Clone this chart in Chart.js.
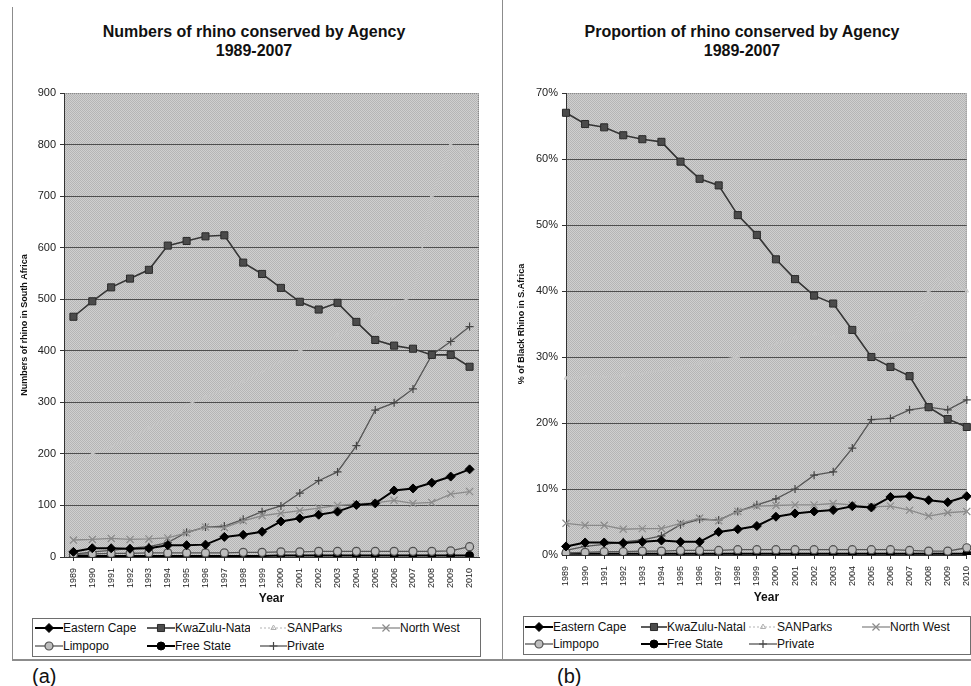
<!DOCTYPE html>
<html lang="en">
<head>
<meta charset="UTF-8">
<title>Rhino conserved by Agency 1989-2007</title>
<script src="https://cdn.jsdelivr.net/npm/chart.js@4/dist/chart.umd.min.js"></script>
<style>
    body {
        margin: 0;
        background: #fff;
        font-family: Arial, "Liberation Sans", sans-serif;
        overflow: hidden;
    }

    #page {
        position: relative;
        width: 971px;
        height: 686px;
    }

    .rule {
        position: absolute;
        background: #8c8c8c;
    }

    .title {
        position: absolute;
        top: 22px;
        text-align: center;
        font-weight: bold;
        font-size: 16px;
        line-height: 19px;
        color: #111;
    }

    .plot {
        position: absolute;
        top: 0;
    }

    .legend {
        position: absolute;
        border: 1px solid #6e6e6e;
        box-sizing: border-box;
    }

    .key {
        position: absolute;
        height: 14px;
    }

    .key canvas {
        position: absolute;
        left: 0;
        top: 0;
    }

    .key span {
        position: absolute;
        top: 0;
        white-space: nowrap;
        overflow: hidden;
        font-size: 12px;
        line-height: 14px;
        color: #111;
    }

    .tag {
        position: absolute;
        top: 665px;
        font-size: 20px;
        line-height: 22px;
        color: #111;
    }
</style>
</head>
<body>
<div id="page">
    <div class="rule" style="left:12px;top:7px;width:1px;height:653px"></div>
    <div class="rule" style="left:502px;top:0;width:1px;height:660px"></div>
    <div class="rule" style="left:12px;top:659px;width:959px;height:2px"></div>

    <div class="title" style="left:0;width:508px">Numbers of rhino conserved by Agency<br>1989-2007</div>
    <div class="title" style="left:513px;width:458px">Proportion of rhino conserved by Agency<br>1989-2007</div>

    <canvas id="countChart" class="plot" style="left:12px" width="478" height="612"></canvas>
    <canvas id="shareChart" class="plot" style="left:502px" width="471" height="612"></canvas>

    <div class="legend" id="countLegend" style="left:32px;top:618px;width:449px;height:39px"></div>
    <div class="legend" id="shareLegend" style="left:523px;top:616px;width:448px;height:39px"></div>

    <div class="tag" style="left:32px">(a)</div>
    <div class="tag" style="left:557px">(b)</div>
</div>

<script>
    // categories
    const years = ['1989', '1990', '1991', '1992', '1993', '1994', '1995', '1996', '1997', '1998', '1999',
        '2000', '2001', '2002', '2003', '2004', '2005', '2006', '2007', '2008', '2009', '2010'];
    const seriesNames = ['Eastern Cape', 'KwaZulu-Natal', 'SANParks', 'North West', 'Limpopo', 'Free State', 'Private'];

    // (a) numbers of rhino
    const countEasternCape = [10, 17, 17, 16, 17, 23, 23, 24, 39, 43, 49, 69, 75, 82, 88, 101, 104, 129, 133, 144, 156, 170];
    const countKwaZuluNatal = [466, 496, 523, 540, 557, 604, 613, 622, 624, 571, 549, 522, 495, 480, 493, 456, 421, 410, 404, 392, 392, 369];
    const countSANParks = [180, 200, 215, 230, 250, 270, 295, 310, 325, 340, 360, 380, 400, 415, 430, 450, 470, 490, 505, 700, 800, 770];
    const countNorthWest = [33, 34, 36, 34, 35, 37, 47, 58, 57, 70, 80, 85, 90, 95, 100, 103, 105, 110, 104, 106, 122, 127];
    const countLimpopo = [5, 6, 7, 7, 8, 8, 8, 8, 8, 9, 9, 10, 10, 11, 11, 11, 11, 11, 11, 11, 12, 20];
    const countFreeState = [2, 2, 2, 2, 2, 2, 2, 2, 2, 2, 2, 3, 3, 3, 3, 3, 3, 3, 3, 3, 3, 3];
    const countPrivate = [5, 10, 13, 17, 20, 28, 48, 58, 60, 73, 88, 99, 124, 148, 165, 216, 285, 299, 326, 392, 418, 447];

    // (b) % of black rhino in S.Africa
    const shareEasternCape = [1.3, 1.9, 1.9, 1.8, 2.0, 2.2, 2.0, 2.0, 3.5, 3.9, 4.4, 5.8, 6.3, 6.6, 6.8, 7.4, 7.2, 8.8, 8.9, 8.3, 8.0, 8.9];
    const shareKwaZuluNatal = [67.0, 65.3, 64.8, 63.6, 63.0, 62.6, 59.6, 57.0, 56.0, 51.5, 48.5, 44.8, 41.8, 39.3, 38.1, 34.1, 30.0, 28.5, 27.1, 22.4, 20.6, 19.4];
    const shareSANParks = [26.8, 27.0, 27.0, 27.2, 27.5, 28.0, 28.5, 29.0, 29.5, 30.0, 31.0, 32.0, 33.0, 33.5, 33.0, 33.5, 33.5, 34.0, 34.0, 40.0, 42.0, 40.0];
    const shareNorthWest = [4.8, 4.5, 4.5, 3.9, 4.0, 4.0, 4.8, 5.6, 5.2, 6.6, 7.4, 7.5, 7.6, 7.6, 7.8, 7.6, 7.3, 7.4, 6.8, 5.9, 6.4, 6.6];
    const shareLimpopo = [0.3, 0.4, 0.5, 0.5, 0.6, 0.6, 0.7, 0.7, 0.7, 0.8, 0.8, 0.8, 0.8, 0.8, 0.8, 0.8, 0.8, 0.8, 0.7, 0.6, 0.6, 1.1];
    const shareFreeState = [0.2, 0.2, 0.2, 0.2, 0.2, 0.2, 0.2, 0.2, 0.2, 0.2, 0.2, 0.2, 0.2, 0.2, 0.2, 0.2, 0.2, 0.2, 0.2, 0.2, 0.2, 0.2];
    const sharePrivate = [0.7, 1.3, 1.6, 2.0, 2.3, 2.9, 4.6, 5.4, 5.3, 6.6, 7.6, 8.5, 10.0, 12.1, 12.6, 16.2, 20.5, 20.7, 22.0, 22.4, 22.0, 23.5];

    // axis ranges (tick labels come from these)
    const countRange = [0, 900];
    const countStep = 100;
    const shareRange = [0, 70];
    const shareStep = 10;

    const fontFamily = 'Arial, "Liberation Sans", sans-serif';

    // look of each series (key* = how it shows in the legend, if different)
    const seriesStyle = {
        'Eastern Cape': { line: '#000', width: 2, point: 'rectRot', r: 4.5, fill: '#000', stroke: '#000', pw: 1 },
        'KwaZulu-Natal': { line: '#353535', width: 1.6, point: 'rect', r: 5, fill: '#4b4b4b', stroke: '#2a2a2a', pw: 1 },
        'SANParks': { line: '#c4c4c4', width: 1.4, point: 'triangle', r: 2, fill: 'rgba(0,0,0,0)', stroke: '#c6c6c6', pw: 1,
            keyLine: '#b4b4b4', keyDash: [2, 2], keyR: 3, keyStroke: '#b0b0b0', keyWidth: 1 },
        'North West': { line: '#8a8a8a', width: 1.3, point: 'crossRot', r: 5, fill: '#8a8a8a', stroke: '#8a8a8a', pw: 1.2 },
        'Limpopo': { line: '#555', width: 1.3, point: 'circle', r: 4, fill: '#bdbdbd', stroke: '#505050', pw: 1.2 },
        'Free State': { line: '#000', width: 2, point: 'circle', r: 4, fill: '#000', stroke: '#000', pw: 1 },
        'Private': { line: '#555', width: 1.3, point: 'cross', r: 4, fill: '#555', stroke: '#444', pw: 1.2 }
    };

    // dotted grey fill of the plot area
    const dots = document.createElement('canvas');
    dots.width = 2;
    dots.height = 2;
    const dctx = dots.getContext('2d');
    dctx.fillStyle = '#cfcfcf';
    dctx.fillRect(0, 0, 2, 2);
    dctx.fillStyle = '#b5b5b5';
    dctx.fillRect(0, 0, 1, 1);
    dctx.fillRect(1, 1, 1, 1);

    const plotBg = {
        id: 'plotBg',
        beforeDraw(chart) {
            const { ctx, chartArea: a } = chart;
            ctx.save();
            ctx.fillStyle = ctx.createPattern(dots, 'repeat');
            ctx.fillRect(a.left, a.top, a.width, a.height);
            ctx.strokeStyle = '#8a8a8a';
            ctx.lineWidth = 1;
            ctx.setLineDash([1, 1]);
            ctx.beginPath();
            ctx.moveTo(a.left, a.top + 0.5);
            ctx.lineTo(a.right - 0.5, a.top + 0.5);
            ctx.lineTo(a.right - 0.5, a.bottom);
            ctx.stroke();
            ctx.restore();
        }
    };

    function buildChart(id, values, o) {
        const datasets = seriesNames.map((name, i) => {
            const st = seriesStyle[name];
            return {
                label: name,
                data: values[i],
                borderColor: st.line,
                borderWidth: st.width,
                borderDash: st.dash || [],
                pointStyle: st.point,
                pointRadius: st.r,
                pointBackgroundColor: st.fill,
                pointBorderColor: st.stroke,
                pointBorderWidth: st.pw,
                tension: 0,
                fill: false
            };
        });

        return new Chart(document.getElementById(id), {
            type: 'line',
            data: { labels: years, datasets: datasets },
            options: {
                responsive: false,
                animation: false,
                layout: { padding: o.padding },
                plugins: {
                    legend: { display: false },
                    tooltip: { enabled: false },
                    title: { display: false }
                },
                scales: {
                    x: {
                        offset: o.offset,
                        grid: { display: true, drawOnChartArea: false, drawTicks: true, tickLength: 4, color: '#333' },
                        border: { color: '#333', width: 1 },
                        ticks: {
                            autoSkip: false, maxRotation: 90, minRotation: 90, padding: 7,
                            font: { family: fontFamily, size: 9 }, color: '#222'
                        },
                        title: {
                            display: true, text: 'Year', color: '#111',
                            font: { family: fontFamily, size: 12, weight: 'bold' },
                            padding: { top: 0, bottom: o.yearPad }
                        },
                        afterFit(s) {
                            s.height = o.xHeight;
                            s.paddingLeft = 0;
                            s.paddingRight = 0;
                        }
                    },
                    y: {
                        min: o.range[0],
                        max: o.range[1],
                        ticks: {
                            stepSize: o.step, padding: 4, color: '#222',
                            font: { family: fontFamily, size: 11 },
                            callback: v => v + o.unit
                        },
                        grid: {
                            color: c => (c.tick && c.tick.value === o.range[1]) ? 'rgba(0,0,0,0)' : '#4e4e4e',
                            tickColor: '#333',
                            tickLength: 4
                        },
                        border: { color: '#333', width: 1 },
                        title: {
                            display: true, text: o.yTitle, color: '#111',
                            font: { family: fontFamily, size: 9, weight: 'bold' },
                            padding: { top: o.yTitlePad, bottom: 0 }
                        },
                        afterFit(s) {
                            s.width = o.yWidth;
                            s.paddingTop = 0;
                            s.paddingBottom = 0;
                        }
                    }
                }
            },
            plugins: [plotBg]
        });
    }

    buildChart('countChart',
        [countEasternCape, countKwaZuluNatal, countSANParks, countNorthWest, countLimpopo, countFreeState, countPrivate],
        {
            padding: { top: 93, left: 0, right: 11, bottom: 0 },
            offset: true, xHeight: 55, yWidth: 52, yearPad: 6, yTitlePad: 7.6,
            range: countRange, step: countStep, unit: '',
            yTitle: 'Numbers of rhino in South Africa'
        });

    buildChart('shareChart',
        [shareEasternCape, shareKwaZuluNatal, shareSANParks, shareNorthWest, shareLimpopo, shareFreeState, sharePrivate],
        {
            padding: { top: 93, left: 0, right: 6, bottom: 0 },
            offset: false, xHeight: 57, yWidth: 64, yearPad: 7, yTitlePad: 14.6,
            range: shareRange, step: shareStep, unit: '%',
            yTitle: '% of Black Rhino in S.Africa'
        });

    // legends: line sample with marker, then the name
    function drawKey(canvas, st) {
        const ctx = canvas.getContext('2d');
        const w = canvas.width, h = canvas.height;
        ctx.strokeStyle = st.keyLine || st.line;
        ctx.lineWidth = st.keyWidth || st.width;
        ctx.setLineDash(st.keyDash || st.dash || []);
        ctx.beginPath();
        ctx.moveTo(0, h / 2);
        ctx.lineTo(w, h / 2);
        ctx.stroke();
        ctx.setLineDash([]);
        ctx.fillStyle = st.fill;
        ctx.strokeStyle = st.keyStroke || st.stroke;
        ctx.lineWidth = st.pw;
        Chart.helpers.drawPoint(ctx, { pointStyle: st.point, radius: st.keyR || st.r, borderWidth: st.pw, rotation: 0 }, w / 2, h / 2);
    }

    function buildLegend(boxId, left, top, spots) {
        const box = document.getElementById(boxId);
        seriesNames.forEach((name, i) => {
            const p = spots[i];
            const key = document.createElement('div');
            key.className = 'key';
            key.style.left = (p[0] - left) + 'px';
            key.style.top = (p[1] - top - 7) + 'px';
            const cv = document.createElement('canvas');
            cv.width = p[2] - p[0];
            cv.height = 14;
            key.appendChild(cv);
            const label = document.createElement('span');
            label.textContent = name;
            label.style.left = (p[2] - p[0]) + 'px';
            if (p[3]) label.style.width = p[3] + 'px';
            key.appendChild(label);
            box.appendChild(key);
            drawKey(cv, seriesStyle[name]);
        });
    }

    // [marker x, row y, text x, clip width]
    buildLegend('countLegend', 33, 619, [
        [35, 628, 63], [147, 628, 175, 75], [260, 628, 287], [372, 628, 400],
        [35, 646, 63], [147, 646, 175], [260, 646, 287]
    ]);
    buildLegend('shareLegend', 524, 617, [
        [525, 627, 553], [641, 627, 667], [749, 627, 777], [862, 627, 890],
        [525, 644, 553], [641, 644, 667], [749, 644, 777]
    ]);
</script>
</body>
</html>
